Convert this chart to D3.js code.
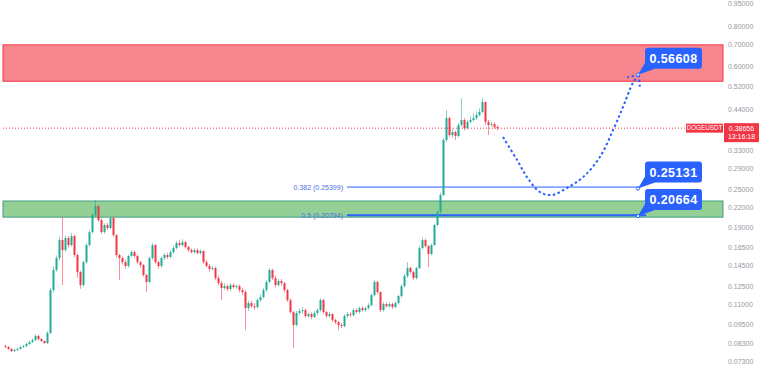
<!DOCTYPE html>
<html>
<head>
<meta charset="utf-8">
<script src="https://cdn.jsdelivr.net/npm/d3@7"></script>
<style>
  body { margin: 0; background: #fff; }
  svg { display: block; font-family: "Liberation Sans", Arial, sans-serif; }
</style>
</head>
<body>
<div id="chart"></div>
<script>
// DOGEUSDT candles (open = previous close)
const firstOpen = 0.0818;
const closes = [
  0.0812, 0.0801, 0.0789, 0.0795, 0.0801, 0.0812, 0.0818, 0.0830, 0.0842, 0.0854,
  0.0879, 0.0860, 0.0848, 0.0836, 0.0898, 0.1219, 0.1406, 0.1532, 0.1741, 0.1621,
  0.1766, 0.1680, 0.1791, 0.1565, 0.1386, 0.1263, 0.1488, 0.1680, 0.1843, 0.2081,
  0.2219, 0.2008, 0.1843, 0.1938, 0.1897, 0.2037, 0.1804, 0.1565, 0.1532, 0.1488,
  0.1447, 0.1554, 0.1598, 0.1554, 0.1488, 0.1457, 0.1357, 0.1291, 0.1532, 0.1680,
  0.1488, 0.1447, 0.1532, 0.1565, 0.1543, 0.1598, 0.1645, 0.1704, 0.1680, 0.1716,
  0.1656, 0.1621, 0.1598, 0.1621, 0.1587, 0.1610, 0.1488, 0.1447, 0.1416, 0.1426,
  0.1328, 0.1281, 0.1237, 0.1254, 0.1228, 0.1263, 0.1245, 0.1254, 0.1219, 0.1202,
  0.1072, 0.1111, 0.1087, 0.1080, 0.1135, 0.1159, 0.1219, 0.1291, 0.1406, 0.1328,
  0.1263, 0.1300, 0.1281, 0.1219, 0.1135, 0.1042, 0.0950, 0.1035, 0.1050, 0.1057,
  0.1013, 0.1027, 0.1006, 0.1035, 0.1057, 0.1135, 0.1042, 0.1013, 0.1027, 0.0984,
  0.0970, 0.0950, 0.0943, 0.1013, 0.1027, 0.1020, 0.1057, 0.1042, 0.1072, 0.1057,
  0.1072, 0.1095, 0.1176, 0.1291, 0.1202, 0.1057, 0.1103, 0.1087, 0.1103, 0.1080,
  0.1111, 0.1168, 0.1254, 0.1347, 0.1426, 0.1386, 0.1328, 0.1426, 0.1645, 0.1741,
  0.1668, 0.1576, 0.1680, 0.1938, 0.2126, 0.2400, 0.3552, 0.4154, 0.3680, 0.3761,
  0.3654, 0.3952, 0.4096, 0.3868, 0.4038, 0.4096, 0.4154, 0.4245, 0.4340, 0.4655,
  0.4038, 0.3952, 0.3980, 0.3896, 0.38656
];
const highs = [
  0.0826, 0.0818, 0.0806, 0.0801, 0.0808, 0.0820, 0.0826, 0.0838, 0.0850, 0.0864,
  0.0890, 0.0886, 0.0866, 0.0852, 0.0910, 0.1240, 0.1440, 0.1560, 0.1780, 0.2052,
  0.1800, 0.1790, 0.1830, 0.1810, 0.1580, 0.1400, 0.1500, 0.1700, 0.1870, 0.2110,
  0.2316, 0.2240, 0.2030, 0.1960, 0.1970, 0.2052, 0.2060, 0.1820, 0.1580, 0.1550,
  0.1510, 0.1570, 0.1620, 0.1620, 0.1570, 0.1500, 0.1470, 0.1370, 0.1550, 0.1704,
  0.1690, 0.1500, 0.1550, 0.1590, 0.1590, 0.1620, 0.1670, 0.1730, 0.1740, 0.1750,
  0.1730, 0.1670, 0.1640, 0.1640, 0.1640, 0.1630, 0.1620, 0.1510, 0.1470, 0.1450,
  0.1440, 0.1350, 0.1300, 0.1280, 0.1270, 0.1280, 0.1280, 0.1270, 0.1270, 0.1240,
  0.1220, 0.1130, 0.1130, 0.1110, 0.1150, 0.1180, 0.1240, 0.1310, 0.1426, 0.1420,
  0.1350, 0.1320, 0.1320, 0.1290, 0.1230, 0.1150, 0.1050, 0.1050, 0.1070, 0.1080,
  0.1070, 0.1040, 0.1040, 0.1050, 0.1070, 0.1150, 0.1145, 0.1050, 0.1045, 0.1035,
  0.0995, 0.0980, 0.0965, 0.1025, 0.1045, 0.1040, 0.1070, 0.1070, 0.1085, 0.1090,
  0.1085, 0.1110, 0.1190, 0.1309, 0.1300, 0.1210, 0.1120, 0.1115, 0.1120, 0.1115,
  0.1125, 0.1180, 0.1270, 0.1370, 0.1488, 0.1440, 0.1400, 0.1440, 0.1670, 0.1770,
  0.1760, 0.1680, 0.1700, 0.1960, 0.2160, 0.2440, 0.3600, 0.4400, 0.4200, 0.3850,
  0.3800, 0.4000, 0.4780, 0.4150, 0.4100, 0.4200, 0.4300, 0.4350, 0.4450, 0.4800,
  0.4680, 0.4100, 0.4050, 0.4030, 0.3950
];
const lows = [
  0.0806, 0.0795, 0.0784, 0.0783, 0.0790, 0.0797, 0.0806, 0.0812, 0.0824, 0.0836,
  0.0848, 0.0852, 0.0842, 0.0830, 0.0830, 0.0890, 0.1200, 0.1390, 0.1510, 0.1263,
  0.1600, 0.1650, 0.1660, 0.1540, 0.1330, 0.1230, 0.1250, 0.1470, 0.1660, 0.1820,
  0.2050, 0.1980, 0.1820, 0.1820, 0.1870, 0.1880, 0.1780, 0.1540, 0.1309, 0.1460,
  0.1420, 0.1430, 0.1540, 0.1530, 0.1470, 0.1430, 0.1340, 0.1202, 0.1280, 0.1510,
  0.1470, 0.1420, 0.1430, 0.1510, 0.1520, 0.1530, 0.1580, 0.1630, 0.1660, 0.1660,
  0.1640, 0.1600, 0.1580, 0.1580, 0.1570, 0.1570, 0.1470, 0.1430, 0.1390, 0.1400,
  0.1310, 0.1260, 0.1135, 0.1220, 0.1210, 0.1210, 0.1230, 0.1230, 0.1200, 0.1180,
  0.0917, 0.1050, 0.1070, 0.1060, 0.1070, 0.1120, 0.1150, 0.1200, 0.1280, 0.1310,
  0.1240, 0.1250, 0.1260, 0.1200, 0.1120, 0.1030, 0.0806, 0.0940, 0.1020, 0.1030,
  0.1000, 0.1000, 0.0990, 0.0995, 0.1020, 0.1045, 0.1030, 0.1000, 0.1000, 0.0970,
  0.0955, 0.0917, 0.0930, 0.0935, 0.1000, 0.1005, 0.1010, 0.1030, 0.1030, 0.1045,
  0.1045, 0.1060, 0.1085, 0.1165, 0.1185, 0.1040, 0.1045, 0.1075, 0.1075, 0.1065,
  0.1070, 0.1100, 0.1155, 0.1240, 0.1330, 0.1370, 0.1310, 0.1315, 0.1415, 0.1630,
  0.1650, 0.1437, 0.1560, 0.1670, 0.1920, 0.2100, 0.2380, 0.3500, 0.3620, 0.3600,
  0.3550, 0.3620, 0.3900, 0.3800, 0.3820, 0.4000, 0.4050, 0.4100, 0.4200, 0.4300,
  0.3950, 0.3680, 0.3900, 0.3850, 0.3800
];

const symbol = 'DOGEUSDT';
const lastPrice = 0.38656;
const lastTime = '13:16:18';
const yTicks = [0.95, 0.80, 0.70, 0.60, 0.52, 0.44, 0.33, 0.29, 0.25, 0.22, 0.19, 0.165, 0.145, 0.125, 0.11, 0.095, 0.083, 0.073];

const resistanceZone = [0.540, 0.700];
const supportZone = [0.2050, 0.2300];
const fibLevels = [
  { ratio: '0.382', price: 0.25399, end: 211.7 },
  { ratio: '0.5', price: 0.20794, end: 213.7 }
];
const fibStart = 114;
const targets = [0.56608, 0.25131, 0.20664];
const targetIndex = 211;

// projected path: [candle index, price]
const projection = [
  [166, 0.3628], [170.7, 0.3079], [174, 0.2728], [178.3, 0.2452], [182.3, 0.2400],
  [187.3, 0.2523], [192.7, 0.2728], [198.3, 0.3146], [202.7, 0.3814], [206, 0.4495],
  [209.3, 0.5335], [211.3, 0.5660]
];

const W = 775, H = 370;
const plotLeft = 3, plotRight = 723;
const up = '#22ab94', down = '#f23645', blue = '#2962ff';

const candles = closes.map((c, i) => ({
  i, open: i ? closes[i - 1] : firstOpen, close: c, high: highs[i], low: lows[i]
}));

const x = d3.scaleLinear().domain([0, closes.length - 1]).range([5, 497]);
const y = d3.scaleLog().domain([0.95, 0.073]).range([2, 362]);

const svg = d3.select('#chart')
  .append('svg')
  .attr('width', W)
  .attr('height', H);

// zones
svg.append('rect')
  .attr('x', plotLeft).attr('width', plotRight - plotLeft)
  .attr('y', y(resistanceZone[1]))
  .attr('height', y(resistanceZone[0]) - y(resistanceZone[1]))
  .attr('fill', down).attr('fill-opacity', 0.6)
  .attr('stroke', down).attr('stroke-width', 1);

svg.append('rect')
  .attr('x', plotLeft).attr('width', plotRight - plotLeft)
  .attr('y', y(supportZone[1]))
  .attr('height', y(supportZone[0]) - y(supportZone[1]))
  .attr('fill', '#4caf50').attr('fill-opacity', 0.6)
  .attr('stroke', '#3f9f86').attr('stroke-width', 1);

// fib levels
fibLevels.forEach(f => {
  svg.append('line')
    .attr('x1', x(fibStart)).attr('x2', x(f.end))
    .attr('y1', y(f.price)).attr('y2', y(f.price))
    .attr('stroke', blue).attr('stroke-width', f.ratio === '0.5' ? 2 : 1);
  svg.append('text')
    .attr('x', x(fibStart) - 4).attr('y', y(f.price))
    .attr('dy', '0.35em')
    .attr('text-anchor', 'end')
    .attr('font-size', 7)
    .attr('fill', '#4a72e8')
    .text(`${f.ratio} (${f.price.toFixed(5)})`);
});

// last price line
svg.append('line')
  .attr('x1', plotLeft).attr('x2', 686)
  .attr('y1', y(lastPrice)).attr('y2', y(lastPrice))
  .attr('stroke', down).attr('stroke-width', 1)
  .attr('stroke-dasharray', '1,2');

// candles
const g = svg.append('g');
g.selectAll('line.wick')
  .data(candles)
  .enter()
  .append('line')
  .attr('x1', d => x(d.i) + 0.5).attr('x2', d => x(d.i) + 0.5)
  .attr('y1', d => y(d.high)).attr('y2', d => y(d.low))
  .attr('stroke', d => d.close >= d.open ? up : down)
  .attr('stroke-opacity', 0.55);

g.selectAll('rect.body')
  .data(candles)
  .enter()
  .append('rect')
  .attr('x', d => x(d.i) - 0.5)
  .attr('width', 2)
  .attr('y', d => y(Math.max(d.open, d.close)))
  .attr('height', d => Math.max(1, Math.abs(y(d.open) - y(d.close))))
  .attr('fill', d => d.close >= d.open ? up : down);

// projection curve + arrow
const line = d3.line()
  .x(d => x(d[0]))
  .y(d => y(d[1]))
  .curve(d3.curveCatmullRom);

svg.append('path')
  .datum(projection)
  .attr('d', line)
  .attr('fill', 'none')
  .attr('stroke', blue)
  .attr('stroke-width', 2)
  .attr('stroke-dasharray', '2.5,2.5');

const tip = projection[projection.length - 1];
const prev = projection[projection.length - 2];
const tx = x(tip[0]), ty = y(tip[1]);
const ang = Math.atan2(y(prev[1]) - ty, x(prev[0]) - tx);
[-0.7, 0.7].forEach(a => {
  svg.append('line')
    .attr('x1', tx).attr('y1', ty)
    .attr('x2', tx + 12 * Math.cos(ang + a))
    .attr('y2', ty + 12 * Math.sin(ang + a))
    .attr('stroke', blue).attr('stroke-width', 2)
    .attr('stroke-dasharray', '2.5,2.5');
});

// target callouts
targets.forEach(t => {
  const ax = x(targetIndex), ay = y(t);
  const bx = ax + 7, bw = 57, bh = 21, by = ay - 6;
  const cg = svg.append('g');
  cg.append('path')
    .attr('d', `M${ax},${ay} L${bx},${by - 6} L${bx + 10},${by} Z`)
    .attr('fill', blue);
  cg.append('rect')
    .attr('x', bx).attr('y', by - bh)
    .attr('width', bw).attr('height', bh)
    .attr('rx', 3)
    .attr('fill', blue);
  cg.append('text')
    .attr('x', bx + bw / 2).attr('y', by - bh / 2)
    .attr('dy', '0.36em')
    .attr('text-anchor', 'middle')
    .attr('font-size', 12.5)
    .attr('font-weight', 'bold')
    .attr('letter-spacing', 0.4)
    .attr('fill', '#fff')
    .text(t.toFixed(5));
  cg.append('circle')
    .attr('cx', ax).attr('cy', ay).attr('r', 1.6)
    .attr('fill', '#fff').attr('stroke', blue).attr('stroke-width', 1);
});

// right axis
svg.append('g')
  .selectAll('text')
  .data(yTicks)
  .enter()
  .append('text')
  .attr('x', 728)
  .attr('y', d => Math.max(4, y(d)))
  .attr('dy', '0.35em')
  .attr('font-size', 7)
  .attr('fill', '#9598a1')
  .text(d => d.toFixed(5));

// symbol + last price labels
svg.append('rect')
  .attr('x', 686).attr('y', y(lastPrice) - 4.5)
  .attr('width', 37).attr('height', 9)
  .attr('fill', down);
svg.append('text')
  .attr('x', 704.5).attr('y', y(lastPrice))
  .attr('dy', '0.36em')
  .attr('text-anchor', 'middle')
  .attr('font-size', 6.3)
  .attr('fill', '#fff')
  .text(symbol);

svg.append('rect')
  .attr('x', 724).attr('y', y(lastPrice) - 5)
  .attr('width', 35).attr('height', 19)
  .attr('fill', down);
svg.append('text')
  .attr('x', 741.5).attr('y', y(lastPrice) + 0.5)
  .attr('dy', '0.36em')
  .attr('text-anchor', 'middle')
  .attr('font-size', 7)
  .attr('fill', '#fff')
  .text(lastPrice.toFixed(5));
svg.append('text')
  .attr('x', 741.5).attr('y', y(lastPrice) + 8.5)
  .attr('dy', '0.36em')
  .attr('text-anchor', 'middle')
  .attr('font-size', 7)
  .attr('fill', '#fff')
  .text(lastTime);
</script>
</body>
</html>
